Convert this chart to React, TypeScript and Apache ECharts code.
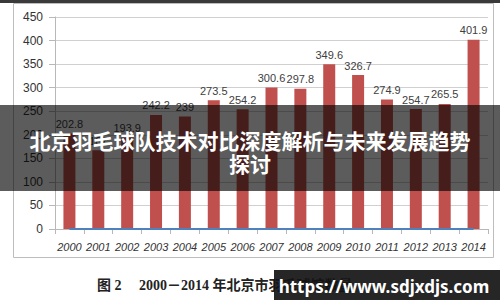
import React, { useEffect, useRef } from "react";
import * as echarts from "echarts";

const years = ["2000","2001","2002","2003","2004","2005","2006","2007","2008","2009","2010","2011","2012","2013","2014"];
const values = [202.8, 167, 193.9, 242.2, 239, 273.5, 254.2, 300.6, 297.8, 349.6, 326.7, 274.9, 254.7, 265.5, 401.9];
const baseline = [0, 0, 0, 0, 0, 0, 0, 0, 0, 0, 0, 0, 0, 0, 0];
const yTicks = { min: 0, max: 450, interval: 50 };
const titleLine1 = "北京羽毛球队技术对比深度解析与未来发展趋势";
const titleLine2 = "探讨";
const caption = "图 2　 2000－2014 年北京市羽毛球馆数量";
const urlText = "https://www.sdjxdjs.com";

export default function App() {
  const ref = useRef<HTMLDivElement>(null);
  useEffect(() => {
    if (!ref.current) return;
    const chart = echarts.init(ref.current, null, { renderer: "svg" });
    chart.setOption({
      animation: false,
      backgroundColor: "#ffffff",
      grid: { left: 55, right: 12, top: 17, bottom: 71 },
      xAxis: {
        type: "category",
        data: years,
        axisLine: { show: true, lineStyle: { color: "#b8b8b8", width: 1 } },
        axisTick: { show: true, alignWithLabel: false, length: 5, lineStyle: { color: "#b8b8b8" } },
        axisLabel: { fontSize: 11, fontStyle: "italic", color: "#333", margin: 12, fontFamily: "Liberation Sans, Arial, sans-serif", interval: 0 },
      },
      yAxis: {
        type: "value",
        min: yTicks.min,
        max: yTicks.max,
        interval: yTicks.interval,
        axisLine: { show: true, lineStyle: { color: "#b8b8b8" } },
        axisTick: { show: true, length: 6, lineStyle: { color: "#b8b8b8" } },
        axisLabel: { fontSize: 12, color: "#333", margin: 12, fontFamily: "Liberation Sans, Arial, sans-serif" },
        splitLine: { show: true, lineStyle: { color: "#d0d0d0", width: 1 } },
      },
      series: [
        {
          type: "bar",
          data: values,
          barWidth: 12,
          itemStyle: { color: "#c0504d" },
          label: { show: true, position: "top", distance: 4, fontSize: 11, color: "#404040", fontFamily: "Liberation Sans, Arial, sans-serif" },
        },
        {
          type: "line",
          data: baseline,
          symbol: "none",
          lineStyle: { color: "#4f81bd", width: 2 },
          z: 5,
        },
      ],
      graphic: [
        { type: "rect", shape: { x: 0, y: 0, width: 500, height: 3 }, style: { fill: "#3a3a3a" }, z: 50 },
        { type: "rect", shape: { x: 13.5, y: 3.5, width: 480, height: 254 }, style: { fill: "none", stroke: "#bdbdbd", lineWidth: 1 }, z: 50 },
        { type: "rect", shape: { x: 0, y: 105, width: 500, height: 86 }, style: { fill: "rgba(0,0,0,0.64)" }, z: 100 },
        {
          type: "text", x: 250, y: 140, z: 101,
          style: { text: titleLine1, fill: "#ffffff", font: "bold 21px 'Noto Sans CJK SC', sans-serif", textAlign: "center", textVerticalAlign: "middle" },
        },
        {
          type: "text", x: 250, y: 163, z: 101,
          style: { text: titleLine2, fill: "#ffffff", font: "bold 21px 'Noto Sans CJK SC', sans-serif", textAlign: "center", textVerticalAlign: "middle" },
        },
        {
          type: "text", x: 97, y: 285, z: 60,
          style: { text: caption, fill: "#222", font: "bold 14px 'Liberation Serif', 'Noto Sans CJK SC', serif", textAlign: "left", textVerticalAlign: "middle" },
        },
        { type: "rect", shape: { x: 274, y: 270, width: 226, height: 30 }, style: { fill: "rgba(20,20,20,0.92)" }, z: 110 },
        {
          type: "text", x: 384, y: 286, z: 111,
          style: { text: urlText, fill: "#ffffff", font: "bold 17px 'Noto Sans', sans-serif", textAlign: "center", textVerticalAlign: "middle" },
        },
      ],
    });
    return () => chart.dispose();
  }, []);
  return <div ref={ref} style={{ position: "fixed", left: 0, top: 0, width: 500, height: 300 }} />;
}
